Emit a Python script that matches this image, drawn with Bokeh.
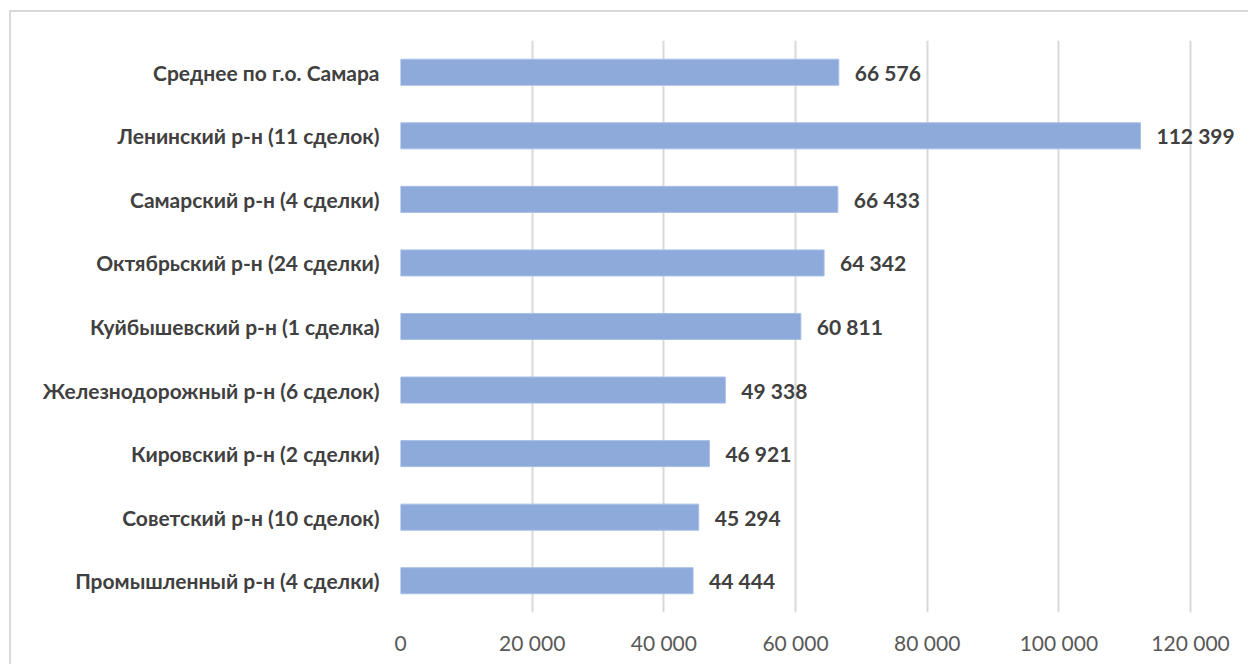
from bokeh.plotting import figure
from bokeh.models import ColumnDataSource, FactorRange, Range1d, FixedTicker
from bokeh.core.properties import value
from bokeh.embed import file_html
from bokeh.resources import INLINE

categories = [
    "Среднее по г.о. Самара",
    "Ленинский р-н (11 сделок)",
    "Самарский р-н (4 сделки)",
    "Октябрьский р-н (24 сделки)",
    "Куйбышевский р-н (1 сделка)",
    "Железнодорожный р-н (6 сделок)",
    "Кировский р-н (2 сделки)",
    "Советский р-н (10 сделок)",
    "Промышленный р-н (4 сделки)",
]
values = [66576, 112399, 66433, 64342, 60811, 49338, 46921, 45294, 44444]
tick_values = [0, 20000, 40000, 60000, 80000, 100000, 120000]
tick_labels = ["0", "20 000", "40 000", "60 000", "80 000", "100 000", "120 000"]

def fmt(v):
    return f"{v:,}".replace(",", " ")

src = ColumnDataSource(dict(cat=categories, val=values, lab=[fmt(v) for v in values]))

FONT = "Lato"
W, H = 1239, 654
p = figure(width=W, height=H, output_backend="svg", toolbar_location=None,
           y_range=FactorRange(factors=list(reversed(categories))),
           x_range=Range1d(0, 128350),
           min_border_left=389, min_border_top=28, min_border_right=5, min_border_bottom=54)
p.styles = {"margin-left": "9px", "margin-top": "10px",
            "border-left": "2px solid #d9d9d9", "border-top": "2px solid #d9d9d9"}
p.outline_line_color = None
p.background_fill_color = "white"
p.border_fill_color = "white"

p.hbar(y="cat", right="val", left=0, height=0.41, source=src,
       fill_color="#8eaadb", line_color="#a9bfe6", line_width=1)
p.text(x="val", y="cat", text="lab", source=src, x_offset=16,
       text_baseline="middle", text_align="left",
       text_font=value(FONT), text_font_style="bold", text_font_size="21px",
       text_color="#404040")

p.xgrid.ticker = FixedTicker(ticks=tick_values)
p.xgrid.grid_line_color = "#d9d9d9"
p.xgrid.grid_line_width = 2
p.ygrid.grid_line_color = None

p.xaxis.ticker = FixedTicker(ticks=tick_values)
p.xaxis.major_label_overrides = {v: l for v, l in zip(tick_values, tick_labels)}
p.xaxis.axis_line_color = None
p.xaxis.major_tick_line_color = None
p.xaxis.minor_tick_line_color = None
p.xaxis.major_label_standoff = 11
p.xaxis.major_label_text_font = FONT
p.xaxis.major_label_text_font_size = "21px"
p.xaxis.major_label_text_color = "#595959"

p.yaxis.axis_line_color = None
p.yaxis.major_tick_line_color = None
p.yaxis.major_label_standoff = 15
p.yaxis.major_label_text_font = FONT
p.yaxis.major_label_text_font_style = "bold"
p.yaxis.major_label_text_font_size = "21px"
p.yaxis.major_label_text_color = "#404040"

open("out.html", "w").write(file_html(p, INLINE))
